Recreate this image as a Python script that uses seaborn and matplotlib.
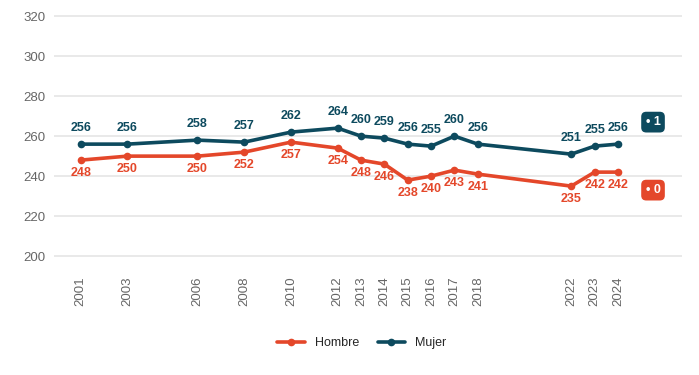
import numpy as np
import pandas as pd
import seaborn as sns
import matplotlib.pyplot as plt

years = [2001, 2003, 2006, 2008, 2010, 2012, 2013, 2014, 2015, 2016, 2017, 2018, 2022, 2023, 2024]
mujer = [256, 256, 258, 257, 262, 264, 260, 259, 256, 255, 260, 256, 251, 255, 256]
hombre = [248, 250, 250, 252, 257, 254, 248, 246, 238, 240, 243, 241, 235, 242, 242]
yticks = [200, 220, 240, 260, 280, 300, 320]
end_labels = ["1", "0"]

colors = {"Hombre": "#E4472A", "Mujer": "#0D4A5E"}

df = pd.DataFrame({
    "year": years * 2,
    "score": hombre + mujer,
    "sexo": ["Hombre"] * len(years) + ["Mujer"] * len(years),
})

sns.set_style("white")
plt.rcParams['font.family'] = ['Liberation Sans', 'DejaVu Sans']

fig = plt.figure(figsize=(6.99, 3.75), dpi=100)
ax = fig.add_axes([0.077, 0.285, 0.899, 0.704])

sns.lineplot(data=df, x="year", y="score", hue="sexo", palette=colors,
             marker="o", markersize=5.5, markeredgewidth=0, linewidth=2.6, ax=ax)

# value labels
for x, v in zip(years, mujer):
    ax.annotate(str(v), (x, v), xytext=(0, 7.5), textcoords="offset points",
                ha="center", va="bottom", fontsize=9, fontweight="bold",
                color=colors["Mujer"])
for x, v in zip(years, hombre):
    ax.annotate(str(v), (x, v), xytext=(0, -5), textcoords="offset points",
                ha="center", va="top", fontsize=9, fontweight="bold",
                color=colors["Hombre"])

# end tags
for lab, yv, c in zip(end_labels, [267, 233], [colors["Mujer"], colors["Hombre"]]):
    ax.text(2025.5, yv, "\u2022 " + lab, ha="center", va="center", fontsize=9,
            fontweight="bold", color="white",
            bbox=dict(boxstyle="round,pad=0.35,rounding_size=0.4", fc=c, ec="none"))

ax.set_xlim(1999.85, 2026.75)
ax.set_ylim(194, 326)
ax.set_yticks(yticks)
ax.set_xticks(years)
ax.set_xticklabels([str(y) for y in years], rotation=90)
ax.grid(axis="y", color="#e3e3e3", linewidth=1.1)
ax.grid(axis="x", visible=False)
for s in ax.spines.values():
    s.set_visible(False)
ax.tick_params(axis="both", length=3, width=1.6, color="#333333",
               labelcolor="#666666", labelsize=9.5, pad=3)
ax.set_xlabel("")
ax.set_ylabel("")

ax.legend(title=None, loc="upper center", bbox_to_anchor=(0.49, -0.22), ncol=2,
          frameon=False, fontsize=9, handlelength=2.2, columnspacing=1.5)

fig.savefig("out.png", dpi=100)
